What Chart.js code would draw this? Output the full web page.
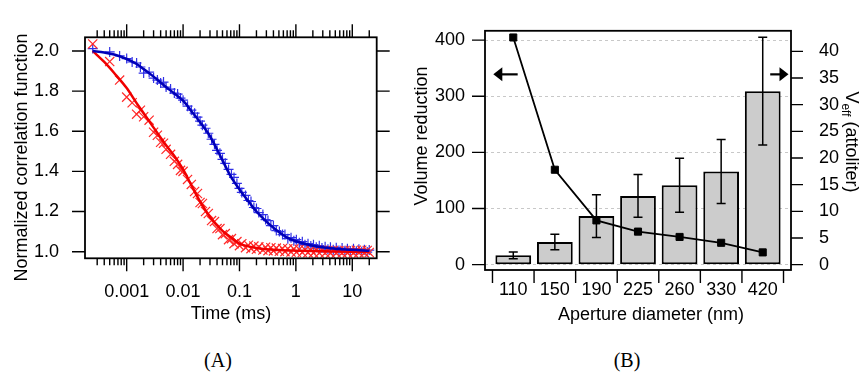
<!DOCTYPE html>
<html>
<head>
<meta charset="utf-8">
<script src="https://cdn.jsdelivr.net/npm/chart.js@4.4.0/dist/chart.umd.min.js"></script>
<style>
  body { margin: 0; background: #fff; width: 861px; height: 372px; position: relative; overflow: hidden; }
  canvas { position: absolute; top: 0; }
  #chart-a { left: 0; }
  #chart-b { left: 400px; }
  .panel-tag { position: absolute; top: 349px; width: 60px; text-align: center; font: 20px "Liberation Serif", "Times New Roman", serif; line-height: 22px; color: #000; }
</style>
</head>
<body>
<canvas id="chart-a" width="400" height="330"></canvas>
<canvas id="chart-b" width="461" height="330"></canvas>
<div class="panel-tag" style="left:188px;">(A)</div>
<div class="panel-tag" style="left:597px;">(B)</div>
<script>
/* Two panels: (A) normalized correlation curves, (B) aperture volume reduction */

// --- Panel A data ---
const timeTicks = [0.001, 0.01, 0.1, 1, 10];
const corrTicks = [1.0, 1.2, 1.4, 1.6, 1.8, 2.0];

const lagTime = [
  0.00025, 0.0005, 0.00075, 0.001, 0.00125, 0.0015, 0.00175, 0.002, 0.0025, 0.003,
  0.0035, 0.004, 0.0045, 0.005, 0.006, 0.007, 0.008, 0.009, 0.010, 0.012,
  0.014, 0.016, 0.018, 0.020, 0.022, 0.025, 0.028, 0.032, 0.036, 0.040,
  0.045, 0.050, 0.056, 0.064, 0.072, 0.080, 0.090, 0.10, 0.11, 0.128,
  0.144, 0.16, 0.18, 0.20, 0.22, 0.26, 0.29, 0.32, 0.36, 0.40,
  0.45, 0.51, 0.58, 0.64, 0.72, 0.82, 0.92, 1.02, 1.15, 1.3,
  1.45, 1.64, 1.84, 2.05, 2.3, 2.6, 2.9, 3.3, 3.7, 4.1,
  4.6, 5.2, 5.8, 6.6, 7.4, 8.2, 9.2, 10.5, 11.8, 13.1,
  14.7, 16.4, 18.4, 20.0
];
const blueCorr = [
  2.012, 1.995, 1.975, 1.962, 1.945, 1.94, 1.92, 1.89, 1.895, 1.865,
  1.855, 1.84, 1.845, 1.82, 1.81, 1.79, 1.785, 1.765, 1.755, 1.725,
  1.705, 1.69, 1.67, 1.65, 1.63, 1.615, 1.59, 1.56, 1.535, 1.505,
  1.49, 1.46, 1.44, 1.41, 1.385, 1.37, 1.34, 1.315, 1.295, 1.28,
  1.255, 1.25, 1.22, 1.215, 1.195, 1.185, 1.16, 1.155, 1.13, 1.13,
  1.105, 1.10, 1.085, 1.085, 1.065, 1.07, 1.055, 1.06, 1.045, 1.05,
  1.035, 1.04, 1.028, 1.035, 1.022, 1.03, 1.018, 1.025, 1.012, 1.022,
  1.01, 1.02, 1.006, 1.018, 1.005, 1.015, 1.003, 1.014, 1.002, 1.012,
  1.0, 1.01, 0.998, 1.008
];
const redCorr = [
  2.035, 1.947, 1.855, 1.77, 1.742, 1.685, 1.705, 1.672, 1.655, 1.595,
  1.58, 1.545, 1.54, 1.51, 1.485, 1.45, 1.435, 1.405, 1.40, 1.36,
  1.335, 1.30, 1.29, 1.245, 1.24, 1.20, 1.19, 1.155, 1.15, 1.115,
  1.115, 1.085, 1.09, 1.06, 1.065, 1.04, 1.05, 1.03, 1.04, 1.02,
  1.032, 1.015, 1.028, 1.012, 1.024, 1.008, 1.022, 1.005, 1.02, 1.004,
  1.018, 1.002, 1.016, 1.0, 1.015, 0.998, 1.014, 0.997, 1.012, 0.996,
  1.01, 0.995, 1.01, 0.994, 1.008, 0.993, 1.007, 0.993, 1.006, 0.992,
  1.006, 0.993, 1.005, 0.993, 1.006, 0.994, 1.006, 0.994, 1.007, 0.995,
  1.007, 0.995, 1.006, 0.996
];

const fitTime = [0.00025, 0.0004, 0.0006, 0.001, 0.0015, 0.002, 0.003, 0.005, 0.007, 0.01,
  0.015, 0.02, 0.03, 0.05, 0.07, 0.1, 0.15, 0.2, 0.3, 0.5, 0.7, 1, 2, 5, 10, 20];
const blueFit = [2.0, 1.992, 1.982, 1.96, 1.935, 1.91, 1.872, 1.82, 1.788, 1.752,
  1.69, 1.645, 1.575, 1.455, 1.375, 1.31, 1.245, 1.2, 1.15, 1.098, 1.07, 1.052, 1.03, 1.015, 1.009, 1.005];
const redFit = [2.0, 1.945, 1.89, 1.815, 1.74, 1.69, 1.618, 1.53, 1.477, 1.41,
  1.315, 1.25, 1.173, 1.104, 1.072, 1.04, 1.025, 1.018, 1.012, 1.008, 1.006, 1.005, 1.003, 1.001, 1.0, 1.0];

// --- Panel B data ---
const apertures = ['110', '150', '190', '225', '260', '330', '420'];
const volumeReduction = [16.6, 40.4, 86.5, 122.5, 141.4, 165.8, 309];
const reductionErr = [6, 14, 38, 38, 48, 57, 96];
const veff = [42.6, 17.8, 8.3, 6.2, 5.2, 4.1, 2.3];
const reductionTicks = [0, 100, 200, 300, 400];
const veffTicks = [0, 5, 10, 15, 20, 25, 30, 35, 40];

const FONT = '"Liberation Sans", Arial, sans-serif';
Chart.defaults.font.family = FONT;
Chart.defaults.font.size = 18;
Chart.defaults.color = '#000';

const pts = (xs, ys) => xs.map((x, i) => ({ x, y: ys[i] }));
const fixTicks = list => scale => { scale.ticks = list.map(v => ({ value: v })); };

// --- Panel A: frame, log minor ticks, axis titles ---
const frameA = {
  id: 'frameA',
  afterDraw(chart) {
    const { ctx, chartArea: a, scales: { x, y } } = chart;
    ctx.save();
    ctx.strokeStyle = '#000';
    ctx.lineWidth = 1.8;
    ctx.strokeRect(a.left, a.top, a.right - a.left, a.bottom - a.top);
    ctx.lineWidth = 1.4;
    ctx.beginPath();
    for (let e = -4; e <= 1; e++) {
      for (let m = 1; m <= 9; m++) {
        const px = x.getPixelForValue(m * Math.pow(10, e));
        if (px < a.left + 4 || px > a.right - 1) continue;
        const len = m === 1 ? 13 : 7;
        ctx.moveTo(px, a.bottom); ctx.lineTo(px, a.bottom + len);
        ctx.moveTo(px, a.top); ctx.lineTo(px, a.top - len);
      }
    }
    corrTicks.forEach(v => {
      const py = y.getPixelForValue(v);
      ctx.moveTo(a.left - 13, py); ctx.lineTo(a.left, py);
      ctx.moveTo(a.right, py); ctx.lineTo(a.right + 13, py);
    });
    ctx.stroke();

    ctx.fillStyle = '#000';
    ctx.font = '18px ' + FONT;
    ctx.textAlign = 'center';
    ctx.fillText('Time (ms)', 231, 318.5);
    ctx.translate(26.5, 157.5);
    ctx.rotate(-Math.PI / 2);
    ctx.fillText('Normalized correlation function', 0, 0);
    ctx.restore();
  }
};

new Chart(document.getElementById('chart-a'), {
  type: 'scatter',
  data: {
    datasets: [
      { label: 'blue fit', data: pts(fitTime, blueFit), showLine: true, borderColor: '#0000b8', borderWidth: 2.5,
        pointRadius: 0, cubicInterpolationMode: 'monotone', order: 0 },
      { label: 'red fit', data: pts(fitTime, redFit), showLine: true, borderColor: '#f00000', borderWidth: 2.5,
        pointRadius: 0, cubicInterpolationMode: 'monotone', order: 0 },
      { label: 'red', data: pts(lagTime, redCorr), pointStyle: 'crossRot', pointRadius: 6.5, pointBorderWidth: 1.2,
        borderColor: '#ff2a2a', backgroundColor: '#ff2a2a', order: 1 },
      { label: 'blue', data: pts(lagTime, blueCorr), pointStyle: 'cross', pointRadius: 5, pointBorderWidth: 1.2,
        borderColor: '#3030e6', backgroundColor: '#3030e6', order: 2 }
    ]
  },
  options: {
    responsive: false,
    animation: false,
    layout: { padding: { top: 37.3, right: 23.3, left: 0, bottom: 0 } },
    plugins: { legend: { display: false }, tooltip: { enabled: false } },
    scales: {
      x: {
        type: 'logarithmic', min: 1.824e-4, max: 27.1,
        afterFit: s => { s.height = 71.7; },
        afterBuildTicks: fixTicks(timeTicks),
        ticks: { padding: 15, autoSkip: false, maxRotation: 0, callback: v => String(v) },
        grid: { display: false }, border: { display: false }
      },
      y: {
        min: 0.967, max: 2.068,
        afterFit: s => { s.width = 85; },
        afterBuildTicks: fixTicks(corrTicks),
        ticks: { padding: 18, callback: v => v.toFixed(1) },
        grid: { display: false }, border: { display: false }
      }
    }
  },
  plugins: [frameA]
});

// --- Panel B: frame, ticks, error bars, arrows, titles ---
const arrowLevel = 339;
const frameB = {
  id: 'frameB',
  afterDatasetDraw(chart, args) {
    if (args.index !== 0) return;
    const { ctx, scales: { x, y } } = chart;
    ctx.save();
    ctx.strokeStyle = '#000';
    ctx.lineWidth = 1.5;
    ctx.beginPath();
    volumeReduction.forEach((v, i) => {
      const px = x.getPixelForValue(i);
      const hi = y.getPixelForValue(v + reductionErr[i]);
      const lo = y.getPixelForValue(v - reductionErr[i]);
      ctx.moveTo(px, hi); ctx.lineTo(px, lo);
      ctx.moveTo(px - 4.5, hi); ctx.lineTo(px + 4.5, hi);
      ctx.moveTo(px - 4.5, lo); ctx.lineTo(px + 4.5, lo);
    });
    ctx.stroke();
    ctx.restore();
  },
  afterDraw(chart) {
    const { ctx, chartArea: a, scales: { x, y, y2 } } = chart;
    ctx.save();
    ctx.strokeStyle = '#000';
    ctx.lineWidth = 1.8;
    ctx.strokeRect(a.left, a.top, a.right - a.left, a.bottom - a.top);
    ctx.lineWidth = 1.4;
    ctx.beginPath();
    reductionTicks.forEach(v => {
      const py = y.getPixelForValue(v);
      ctx.moveTo(a.left - 13, py); ctx.lineTo(a.left, py);
    });
    veffTicks.forEach(v => {
      const py = y2.getPixelForValue(v);
      ctx.moveTo(a.right, py); ctx.lineTo(a.right + 12, py);
    });
    for (let i = 0; i <= apertures.length; i++) {
      const px = x.getPixelForValue(i - 0.5);
      ctx.moveTo(px, a.bottom); ctx.lineTo(px, a.bottom + 13);
    }
    ctx.stroke();

    // direction arrows
    const ay = y.getPixelForValue(arrowLevel);
    const drawArrow = (tail, tip) => {
      const t0 = x.getPixelForValue(tail), t1 = x.getPixelForValue(tip);
      const dir = Math.sign(t1 - t0);
      ctx.lineWidth = 2.2;
      ctx.beginPath();
      ctx.moveTo(t0, ay); ctx.lineTo(t1 - dir * 6, ay);
      ctx.stroke();
      ctx.beginPath();
      ctx.moveTo(t1, ay);
      ctx.lineTo(t1 - dir * 9, ay - 7);
      ctx.lineTo(t1 - dir * 9, ay + 7);
      ctx.closePath();
      ctx.fillStyle = '#000';
      ctx.fill();
    };
    drawArrow(0.106, -0.48);
    drawArrow(6.18, 6.62);

    ctx.fillStyle = '#000';
    ctx.font = '18px ' + FONT;
    ctx.textAlign = 'center';
    ctx.fillText('Aperture diameter (nm)', 251, 319.5);

    ctx.save();
    ctx.translate(27, 136);
    ctx.rotate(-Math.PI / 2);
    ctx.fillText('Volume reduction', 0, 0);
    ctx.restore();

    // V_eff (attoliter), reading downwards
    ctx.save();
    ctx.translate(446, 142);
    ctx.rotate(Math.PI / 2);
    ctx.textAlign = 'left';
    const big = '18px ' + FONT, small = '12px ' + FONT;
    ctx.font = big; const wV = ctx.measureText('V').width;
    const wRest = ctx.measureText(' (attoliter)').width;
    ctx.font = small; const wSub = ctx.measureText('eff').width;
    let cx = -(wV + wSub + wRest) / 2;
    ctx.font = big; ctx.fillText('V', cx, 0); cx += wV;
    ctx.font = small; ctx.fillText('eff', cx, 4); cx += wSub;
    ctx.font = big; ctx.fillText(' (attoliter)', cx, 0);
    ctx.restore();
    ctx.restore();
  }
};

new Chart(document.getElementById('chart-b'), {
  type: 'bar',
  data: {
    datasets: [
      { label: 'Volume reduction', data: pts(apertures.map((_, i) => i), volumeReduction),
        backgroundColor: '#cccccc', borderColor: '#000', borderWidth: 2, borderSkipped: false,
        barPercentage: 0.86, categoryPercentage: 1, yAxisID: 'y', order: 1 },
      { label: 'Veff', type: 'line', data: pts(apertures.map((_, i) => i), veff), yAxisID: 'y2',
        borderColor: '#000', borderWidth: 1.8, pointStyle: 'rect', pointRadius: 5,
        pointBackgroundColor: '#000', pointBorderColor: '#000', pointBorderWidth: 1, order: 0 }
    ]
  },
  options: {
    responsive: false,
    animation: false,
    layout: { padding: { top: 14, right: 0, left: 0, bottom: 0 } },
    plugins: { legend: { display: false }, tooltip: { enabled: false } },
    scales: {
      x: {
        type: 'linear', min: -0.68, max: 6.68, offset: false,
        afterFit: s => { s.height = 60; },
        afterBuildTicks: fixTicks(apertures.map((_, i) => i)),
        ticks: { padding: 1, autoSkip: false, maxRotation: 0, callback: (v, i) => apertures[i] },
        grid: { display: false, offset: false }, border: { display: false }
      },
      y: {
        position: 'left', min: -9.5, max: 416.6,
        afterFit: s => { s.width = 85; },
        afterBuildTicks: fixTicks(reductionTicks),
        ticks: { padding: 20 },
        grid: { display: true, drawTicks: false, color: '#c8c8c8', lineWidth: 1 },
        border: { display: false, dash: [3, 3] }
      },
      y2: {
        position: 'right', min: -1.0, max: 43.85,
        afterFit: s => { s.width = 70; },
        afterBuildTicks: fixTicks(veffTicks),
        ticks: { padding: 20 },
        grid: { display: false }, border: { display: false }
      }
    }
  },
  plugins: [frameB]
});
</script>
</body>
</html>
